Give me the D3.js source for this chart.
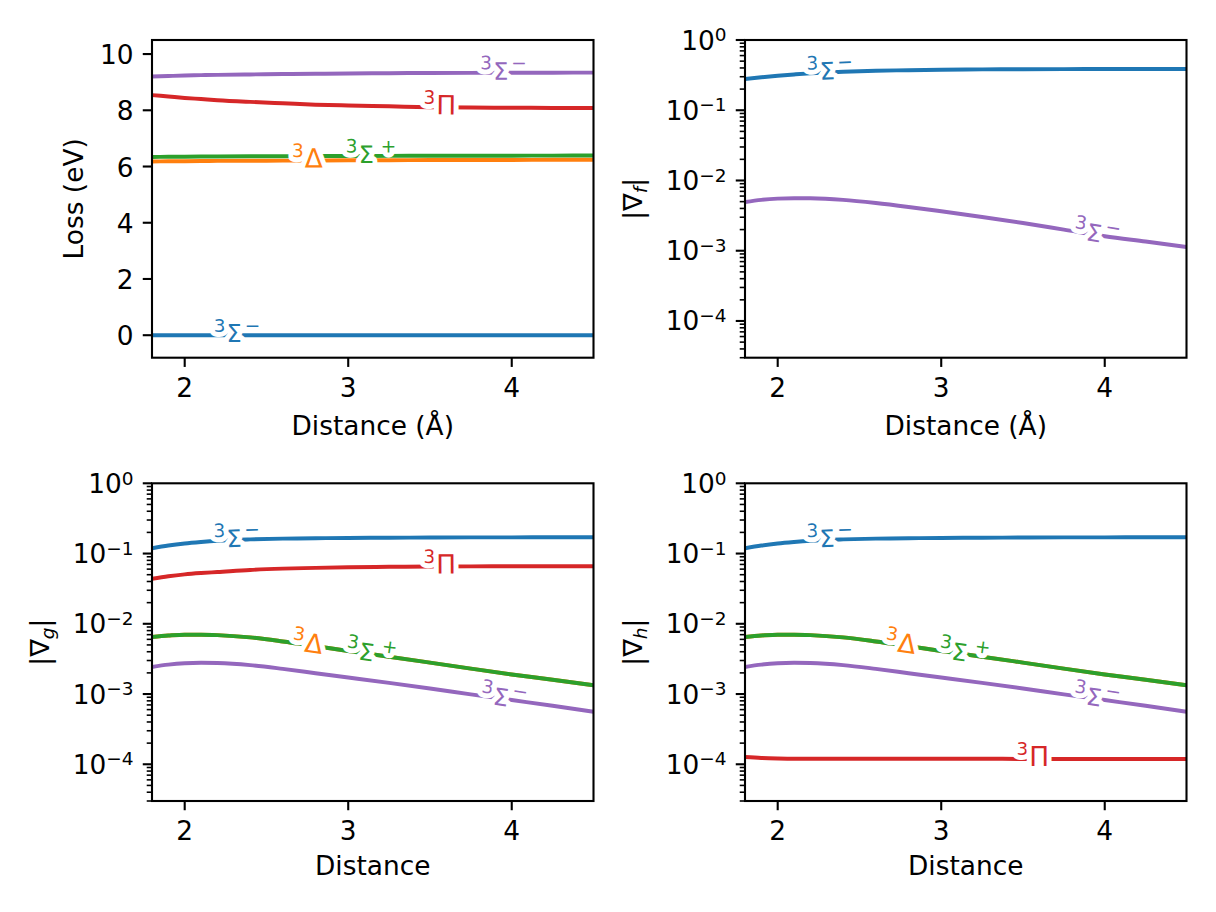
<!DOCTYPE html>
<html>
<head>
<meta charset="utf-8">
<script src="https://cdn.jsdelivr.net/npm/d3@7"></script>
<style>
  body { margin: 0; background: #fff; }
  svg { display: block; font-family: "DejaVu Sans", sans-serif; }
</style>
</head>
<body>
<svg id="fig" width="1216" height="912"></svg>
<script>
"use strict";

// ---- data ----
const distance = [1.8, 1.9, 2.0, 2.1, 2.2, 2.4, 2.6, 2.8, 3.0, 3.25, 3.5, 3.75, 4.0, 4.25, 4.5];
const xTicks = [2, 3, 4];
const lossTicks = [0, 2, 4, 6, 8, 10];
const logTicks = [1, 1e-1, 1e-2, 1e-3, 1e-4];
const logTickExp = ["0", "\u22121", "\u22122", "\u22123", "\u22124"];

const stateColors = ["#1f77b4", "#ff7f0e", "#2ca02c", "#d62728", "#9467bd"];
const stateLabels = [
  { pre: "3", base: "\u03a3", post: "\u2212" },
  { pre: "3", base: "\u0394", post: "" },
  { pre: "3", base: "\u03a3", post: "+" },
  { pre: "3", base: "\u03a0", post: "" },
  { pre: "3", base: "\u03a3", post: "\u2212" },
];
const labelX = [2.32, 2.75, 3.14, 3.56, 3.95];

// Loss (eV)
const lossSigmaMinus = [0, 0, 0, 0, 0, 0, 0, 0, 0, 0, 0, 0, 0, 0, 0];
const lossDelta = [6.18, 6.185, 6.19, 6.195, 6.2, 6.205, 6.21, 6.215, 6.22, 6.225, 6.23, 6.232, 6.235, 6.238, 6.24];
const lossSigmaPlus = [6.34, 6.345, 6.35, 6.354, 6.357, 6.362, 6.366, 6.37, 6.374, 6.378, 6.381, 6.384, 6.386, 6.388, 6.39];
const lossPi = [8.54, 8.49, 8.44, 8.4, 8.36, 8.3, 8.25, 8.2, 8.17, 8.14, 8.11, 8.1, 8.09, 8.085, 8.08];
const lossSigmaMinus2 = [9.2, 9.22, 9.235, 9.25, 9.26, 9.275, 9.29, 9.3, 9.31, 9.32, 9.325, 9.33, 9.335, 9.338, 9.34];

// |grad f|
const fSigmaMinus = [0.279, 0.295, 0.31, 0.323, 0.335, 0.352, 0.364, 0.372, 0.378, 0.382, 0.384, 0.385, 0.386, 0.387, 0.387];
const fSigmaMinus2 = [0.00494, 0.0053, 0.00552, 0.0056, 0.00558, 0.0053, 0.00478, 0.0042, 0.00364, 0.00302, 0.00248, 0.002, 0.00161, 0.00135, 0.00113];

// |grad g|
const gSigmaMinus = [0.119, 0.13, 0.139, 0.146, 0.152, 0.159, 0.163, 0.165, 0.167, 0.168, 0.169, 0.17, 0.17, 0.171, 0.171];
const gDelta = [0.0065, 0.0068, 0.007, 0.007, 0.0069, 0.0064, 0.0056, 0.0048, 0.0041, 0.0034, 0.0028, 0.0023, 0.0019, 0.0016, 0.00133];
const gSigmaPlus = [0.0065, 0.0068, 0.007, 0.007, 0.0069, 0.0064, 0.0056, 0.0048, 0.0041, 0.0034, 0.0028, 0.0023, 0.0019, 0.0016, 0.00133];
const gPi = [0.0437, 0.0475, 0.0505, 0.0527, 0.0545, 0.0585, 0.061, 0.0625, 0.0637, 0.0647, 0.0653, 0.0657, 0.0659, 0.066, 0.066];
const gSigmaMinus2 = [0.00243, 0.00262, 0.00274, 0.00278, 0.00276, 0.00258, 0.00228, 0.00198, 0.00172, 0.00144, 0.0012, 0.00099, 0.00082, 0.00068, 0.00056];

// |grad h|
const hSigmaMinus = [0.119, 0.13, 0.139, 0.146, 0.152, 0.159, 0.163, 0.165, 0.167, 0.168, 0.169, 0.17, 0.17, 0.171, 0.171];
const hDelta = [0.0065, 0.0068, 0.007, 0.007, 0.0069, 0.0064, 0.0056, 0.0048, 0.0041, 0.0034, 0.0028, 0.0023, 0.0019, 0.0016, 0.00133];
const hSigmaPlus = [0.0065, 0.0068, 0.007, 0.007, 0.0069, 0.0064, 0.0056, 0.0048, 0.0041, 0.0034, 0.0028, 0.0023, 0.0019, 0.0016, 0.00133];
const hPi = [1.27e-4, 1.23e-4, 1.21e-4, 1.2e-4, 1.2e-4, 1.2e-4, 1.2e-4, 1.2e-4, 1.2e-4, 1.2e-4, 1.19e-4, 1.19e-4, 1.19e-4, 1.19e-4, 1.19e-4];
const hSigmaMinus2 = [0.00243, 0.00262, 0.00274, 0.00278, 0.00276, 0.00258, 0.00228, 0.00198, 0.00172, 0.00144, 0.0012, 0.00099, 0.00082, 0.00068, 0.00056];

// ---- layout ----
const FS = 26.4;
const SUP = 18.5;
const panelW = 441.5;
const panelH = 317.7;
const panels = [
  { left: 152, top: 40, log: false, domain: [-0.8, 10.5], ylabel: [{ t: "Loss (eV)" }], labelBase: 83,
    xlabel: "Distance (\u00c5)", xlabelDy: 77,
    series: [lossSigmaMinus, lossDelta, lossSigmaPlus, lossPi, lossSigmaMinus2] },
  { left: 745, top: 40, log: true, domain: [3e-5, 1], ylabel: [{ t: "|\u2207" }, { t: "f", sub: true }, { t: "|" }], labelBase: 642,
    xlabel: "Distance (\u00c5)", xlabelDy: 77,
    series: [fSigmaMinus, null, null, null, fSigmaMinus2] },
  { left: 152, top: 483.3, log: true, domain: [3e-5, 1], ylabel: [{ t: "|\u2207" }, { t: "g", sub: true }, { t: "|" }], labelBase: 49,
    xlabel: "Distance", xlabelDy: 74,
    series: [gSigmaMinus, gDelta, gSigmaPlus, gPi, gSigmaMinus2] },
  { left: 745, top: 483.3, log: true, domain: [3e-5, 1], ylabel: [{ t: "|\u2207" }, { t: "h", sub: true }, { t: "|" }], labelBase: 642,
    xlabel: "Distance", xlabelDy: 74,
    series: [hSigmaMinus, hDelta, hSigmaPlus, hPi, hSigmaMinus2] },
];

const svg = d3.select("#fig");

function pointAtX(node, sx) {
  let lo = 0;
  let hi = node.getTotalLength();
  for (let i = 0; i < 40; i++) {
    const mid = (lo + hi) / 2;
    if (node.getPointAtLength(mid).x < sx) lo = mid;
    else hi = mid;
  }
  return lo;
}

panels.forEach((p, pi) => {
  const bottom = p.top + panelH;
  const right = p.left + panelW;
  const x = d3.scaleLinear().domain([1.8, 4.5]).range([p.left, right]);
  const y = p.log
    ? d3.scaleLog().domain(p.domain).range([bottom, p.top])
    : d3.scaleLinear().domain(p.domain).range([bottom, p.top]);

  const g = svg.append("g");
  const clipId = `clip${pi}`;
  g.append("clipPath").attr("id", clipId)
    .append("rect").attr("x", p.left).attr("y", p.top).attr("width", panelW).attr("height", panelH);

  // lines
  const lineGen = d3.line()
    .x((d, i) => x(distance[i]))
    .y((d) => y(d))
    .curve(d3.curveMonotoneX);
  const paths = [];
  const linesG = g.append("g").attr("clip-path", `url(#${clipId})`);
  p.series.forEach((vals, si) => {
    if (!vals) { paths.push(null); return; }
    const path = linesG.append("path")
      .datum(vals)
      .attr("d", lineGen)
      .attr("fill", "none")
      .attr("stroke", stateColors[si])
      .attr("stroke-width", 3.96)
      .attr("stroke-linecap", "square");
    paths.push(path.node());
  });

  // frame
  g.append("rect")
    .attr("x", p.left).attr("y", p.top)
    .attr("width", panelW).attr("height", panelH)
    .attr("fill", "none").attr("stroke", "#000").attr("stroke-width", 2.1);

  // x ticks
  xTicks.forEach((t) => {
    g.append("line")
      .attr("x1", x(t)).attr("x2", x(t))
      .attr("y1", bottom).attr("y2", bottom + 9.24)
      .attr("stroke", "#000").attr("stroke-width", 2.1);
    g.append("text")
      .attr("x", x(t)).attr("y", bottom + 39)
      .attr("text-anchor", "middle").attr("font-size", FS)
      .text(t);
  });
  g.append("text")
    .attr("x", (p.left + right) / 2).attr("y", bottom + p.xlabelDy)
    .attr("text-anchor", "middle").attr("font-size", FS)
    .text(p.xlabel);

  // y ticks
  if (!p.log) {
    lossTicks.forEach((t) => {
      g.append("line")
        .attr("x1", p.left - 9.24).attr("x2", p.left)
        .attr("y1", y(t)).attr("y2", y(t))
        .attr("stroke", "#000").attr("stroke-width", 2.1);
      g.append("text")
        .attr("x", p.left - 18.4).attr("y", y(t) + 10)
        .attr("text-anchor", "end").attr("font-size", FS)
        .text(t);
    });
  } else {
    const minors = [];
    for (let k = -5; k <= -1; k++) {
      for (let m = 2; m <= 9; m++) {
        const v = m * Math.pow(10, k);
        if (v >= p.domain[0] * 0.999 && v <= p.domain[1]) minors.push(v);
      }
    }
    minors.forEach((v) => {
      g.append("line")
        .attr("x1", p.left - 5.28).attr("x2", p.left)
        .attr("y1", y(v)).attr("y2", y(v))
        .attr("stroke", "#000").attr("stroke-width", 1.58);
    });
    logTicks.forEach((t, i) => {
      g.append("line")
        .attr("x1", p.left - 9.24).attr("x2", p.left)
        .attr("y1", y(t)).attr("y2", y(t))
        .attr("stroke", "#000").attr("stroke-width", 2.1);
      const lab = g.append("text")
        .attr("x", p.left - 18.4).attr("y", y(t) + 9.5)
        .attr("text-anchor", "end").attr("font-size", FS);
      lab.append("tspan").text("10");
      lab.append("tspan").attr("font-size", SUP).attr("dy", -8.3).text(logTickExp[i]);
    });
  }

  // y label
  const yl = g.append("text")
    .attr("transform", `translate(${p.labelBase},${(p.top + bottom) / 2}) rotate(-90)`)
    .attr("text-anchor", "middle").attr("font-size", FS);
  let shifted = 0;
  p.ylabel.forEach((part) => {
    const ts = yl.append("tspan").text(part.t);
    if (part.sub) {
      ts.attr("font-size", SUP).attr("font-style", "italic").attr("dy", 5);
      shifted = 5;
    } else if (shifted) {
      ts.attr("dy", -shifted);
      shifted = 0;
    }
  });

  // inline state labels
  p.series.forEach((vals, si) => {
    const node = paths[si];
    if (!node) return;
    const len = pointAtX(node, x(labelX[si]));
    const pt = node.getPointAtLength(len);
    const a = node.getPointAtLength(Math.max(0, len - 4));
    const b = node.getPointAtLength(len + 4);
    const ang = Math.atan2(b.y - a.y, b.x - a.x) * 180 / Math.PI;
    const spec = stateLabels[si];
    const txt = g.append("text")
      .attr("transform", `translate(${pt.x},${pt.y}) rotate(${ang})`)
      .attr("text-anchor", "middle")
      .attr("fill", stateColors[si])
      .attr("stroke", "#fff").attr("stroke-width", 10)
      .attr("stroke-linejoin", "round").attr("paint-order", "stroke");
    txt.append("tspan").attr("font-size", SUP).attr("dy", -3.5).text(spec.pre);
    txt.append("tspan").attr("font-size", spec.base === "\u03a3" ? 24 : FS).attr("dx", 1).attr("dy", 10.5).text(spec.base);
    if (spec.post) {
      txt.append("tspan").attr("font-size", SUP)
        .attr("dx", spec.post === "+" ? 7 : 3).attr("dy", -10.5).text(spec.post);
    }
  });
});
</script>
</body>
</html>
